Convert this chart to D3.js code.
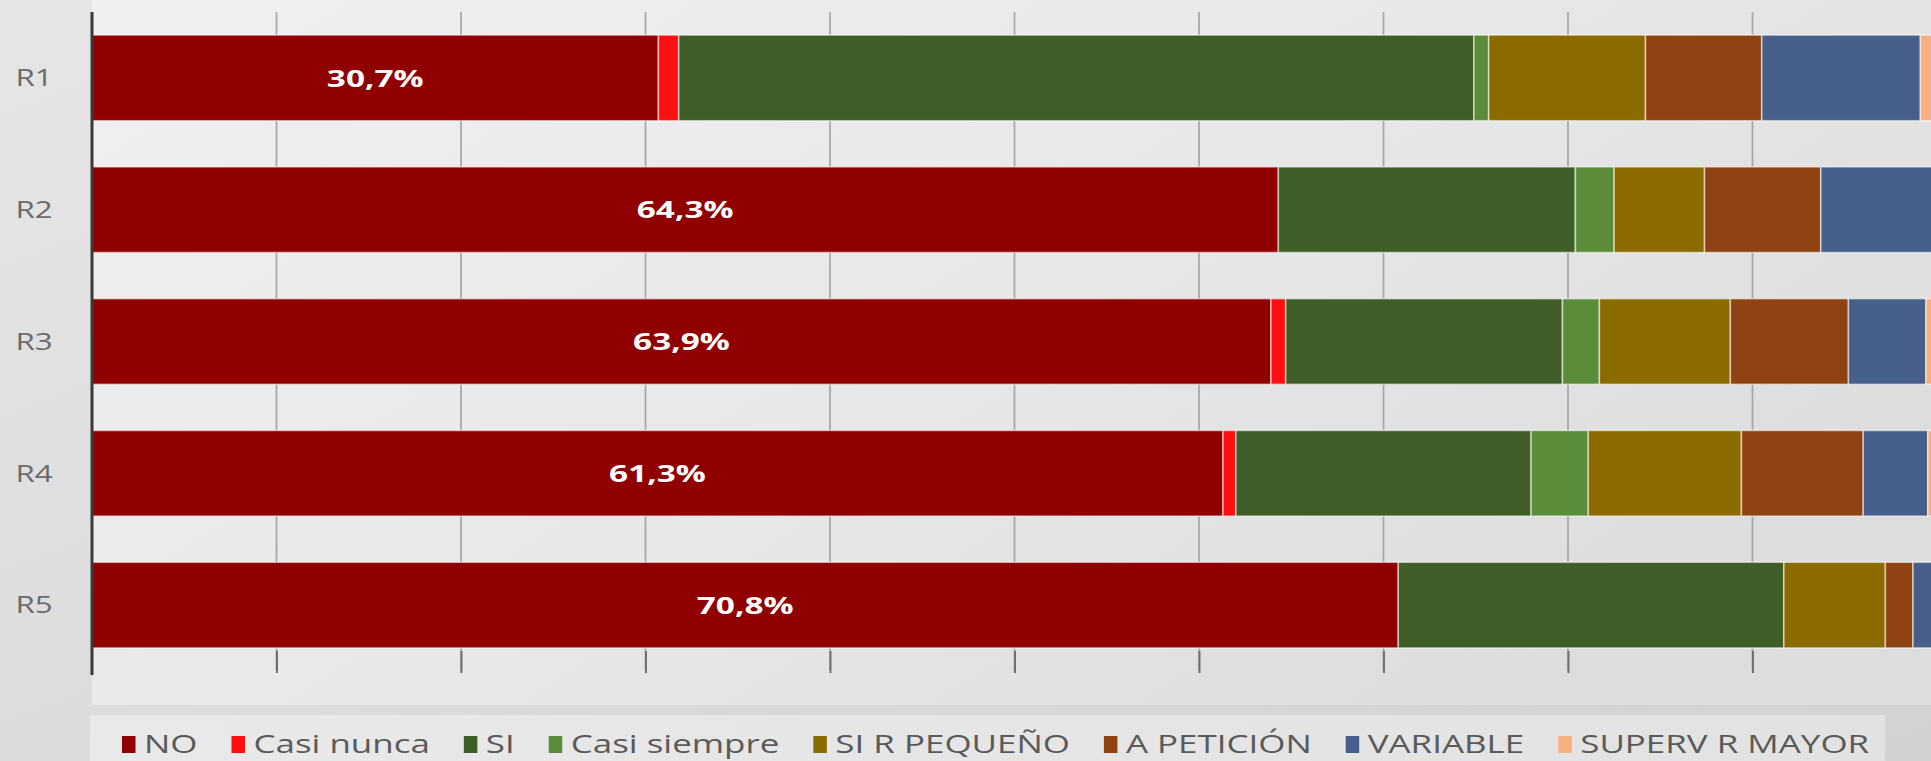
<!DOCTYPE html>
<html>
<head>
<meta charset="utf-8">
<script src="https://cdn.jsdelivr.net/npm/d3@7"></script>
<style>
  html, body { margin: 0; padding: 0; overflow: hidden; background: #e0e0e0; }
  svg { display: block; }
</style>
</head>
<body>
<svg id="chart" width="1931" height="761"></svg>
<script>
// ---- Data ----
const categories = ["R1", "R2", "R3", "R4", "R5"];
const seriesNames = ["NO", "Casi nunca", "SI", "Casi siempre", "SI R PEQUEÑO", "A PETICIÓN", "VARIABLE", "SUPERV R MAYOR"];
const seriesColors = ["#900000", "#ff1010", "#3f5d27", "#5a8c3a", "#8b6a00", "#8f4312", "#465f8b", "#f6b07f"];

const valNO          = [30.7, 64.3, 63.9, 61.3, 70.8];
const valCasiNunca   = [1.1, 0.0, 0.8, 0.7, 0.0];
const valSI          = [43.1, 16.1, 15.0, 16.0, 20.9];
const valCasiSiempre = [0.8, 2.1, 2.0, 3.1, 0.0];
const valSIRPequeno  = [8.5, 4.9, 7.1, 8.3, 5.5];
const valAPeticion   = [6.3, 6.3, 6.4, 6.6, 1.5];
const valVariable    = [8.6, 6.3, 4.2, 3.5, 1.3];
const valSupervMayor = [0.9, 0.0, 0.6, 0.5, 0.0];

const xTicks = [10, 20, 30, 40, 50, 60, 70, 80, 90];

const seriesValues = [valNO, valCasiNunca, valSI, valCasiSiempre, valSIRPequeno, valAPeticion, valVariable, valSupervMayor];

// ---- Build table ----
const rows = categories.map((c, i) => {
  const r = { cat: c };
  seriesNames.forEach((s, k) => { r[s] = seriesValues[k][i]; });
  return r;
});

const svg = d3.select("#chart");
const W = 1931, H = 761;

// ---- Background ----
const defs = svg.append("defs");
const bgGrad = defs.append("linearGradient").attr("id", "bg").attr("x1", "0").attr("y1", "0").attr("x2", "1").attr("y2", "1");
bgGrad.append("stop").attr("offset", "0%").attr("stop-color", "#e6e6e6");
bgGrad.append("stop").attr("offset", "100%").attr("stop-color", "#d2d2d2");
const plotGrad = defs.append("linearGradient").attr("id", "plotbg").attr("x1", "0").attr("y1", "0").attr("x2", "1").attr("y2", "0.6");
plotGrad.append("stop").attr("offset", "0%").attr("stop-color", "#f0f0f0");
plotGrad.append("stop").attr("offset", "55%").attr("stop-color", "#e8e8e8");
plotGrad.append("stop").attr("offset", "100%").attr("stop-color", "#dddddd");
const legGrad = defs.append("linearGradient").attr("id", "legbg").attr("x1", "0").attr("y1", "0").attr("x2", "1").attr("y2", "0");
legGrad.append("stop").attr("offset", "0%").attr("stop-color", "#e9e9e9");
legGrad.append("stop").attr("offset", "100%").attr("stop-color", "#e2e2e2");

svg.append("rect").attr("width", W).attr("height", H).attr("fill", "url(#bg)");

// ---- Scales ----
const x = d3.scaleLinear().domain([0, 100]).range([92, 1937]);
const y = d3.scaleBand().domain(categories).range([12, 671]).paddingInner(0.35).paddingOuter(0.175);
const color = d3.scaleOrdinal().domain(seriesNames).range(seriesColors);

// plot area background
svg.append("rect")
  .attr("x", x(0)).attr("y", 0)
  .attr("width", W - x(0)).attr("height", 705)
  .attr("fill", "url(#plotbg)");

// ---- Gridlines ----
svg.append("g").selectAll("line").data(xTicks).join("line")
  .attr("x1", d => x(d)).attr("x2", d => x(d))
  .attr("y1", 12).attr("y2", 671)
  .attr("stroke", "#a8a8a8").attr("stroke-width", 1.8);

// tick marks at the bottom
const xAxis = d3.axisBottom(x).tickValues(xTicks).tickSizeInner(22).tickSizeOuter(0).tickFormat("");
const gx = svg.append("g").attr("transform", `translate(0, ${y.range()[1] - 20})`).call(xAxis);
gx.select(".domain").remove();
gx.selectAll(".tick line").attr("stroke", "#707070").attr("stroke-width", 2);

// ---- Bars ----
const stack = d3.stack().keys(seriesNames);
const stacked = stack(rows);

const layers = svg.append("g").selectAll("g").data(stacked).join("g")
  .attr("fill", d => color(d.key));

layers.selectAll("rect").data(d => d.filter(p => p[1] - p[0] > 0)).join("rect")
  .attr("x", d => x(d[0]))
  .attr("y", d => y(d.data.cat))
  .attr("width", d => x(d[1]) - x(d[0]))
  .attr("height", y.bandwidth())
  .attr("stroke", "rgba(255,255,255,0.55)")
  .attr("stroke-width", 1.6);

// ---- Vertical axis ----
svg.append("line")
  .attr("x1", x(0)).attr("x2", x(0))
  .attr("y1", 12).attr("y2", 675)
  .attr("stroke", "#3a3a3a").attr("stroke-width", 3);

// category labels
const SX = 1.36;
svg.append("g").selectAll("text").data(categories).join("text")
  .attr("transform", d => `translate(34, ${y(d) + y.bandwidth() / 2}) scale(${SX},1)`)
  .attr("text-anchor", "middle")
  .attr("dy", "0.36em")
  .attr("font-family", "'Open Sans', sans-serif")
  .attr("font-size", 23)
  .attr("fill", "#6b6b6b")
  .text(d => d);

// data labels on NO series
const fmt = v => d3.format(".1f")(v).replace(".", ",") + "%";
svg.append("g").selectAll("text").data(stacked[0]).join("text")
  .attr("transform", d => `translate(${(x(d[0]) + x(d[1])) / 2}, ${y(d.data.cat) + y.bandwidth() / 2}) scale(1.42,1)`)
  .attr("text-anchor", "middle")
  .attr("dy", "0.37em")
  .attr("font-family", "'Open Sans', sans-serif")
  .attr("font-weight", "bold")
  .attr("font-size", 23.5)
  .attr("fill", "#ffffff")
  .text(d => fmt(d[1] - d[0]));

// ---- Legend ----
svg.append("rect")
  .attr("x", 90).attr("y", 715).attr("width", 1795).attr("height", 60)
  .attr("fill", "url(#legbg)");

const LSX = 1.37;
const legend = svg.append("g");
let lx = 122;
seriesNames.forEach((name, i) => {
  const g = legend.append("g");
  g.append("rect")
    .attr("x", lx).attr("y", 736).attr("width", 13.5).attr("height", 17)
    .attr("fill", color(name));
  const t = g.append("text")
    .attr("transform", `translate(${lx + 22}, 753) scale(${LSX},1)`)
    .attr("font-family", "'Open Sans', sans-serif")
    .attr("font-size", 25.5)
    .attr("fill", "#5a5a5a")
    .text(name);
  const w = t.node().getComputedTextLength() * LSX;
  lx = lx + 22 + w + 34;
});
</script>
</body>
</html>
